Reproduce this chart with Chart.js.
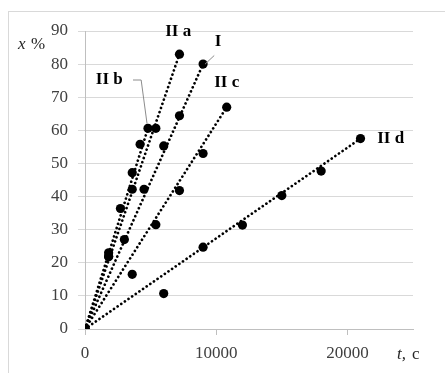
<!DOCTYPE html>
<html>
<head>
<meta charset="UTF-8">
<title>x % vs t</title>
<script src="https://cdn.jsdelivr.net/npm/chart.js"></script>
<style>
  html, body { margin: 0; padding: 0; background: #fff; }
  #wrap { width: 445px; height: 373px; }
</style>
</head>
<body>
<div id="wrap"><canvas id="graf"></canvas></div>
<script>
// measured points, t in s, x in %
var tIIa = [0, 1800, 3600, 5400, 7200];
var xIIa = [0, 22, 42.2, 60.6, 83];
var tIIb = [0, 1800, 2700, 3600, 4200, 4800];
var xIIb = [0, 23, 36.4, 47.2, 55.8, 60.6];
var tI = [0, 1800, 3000, 4500, 6000, 7200, 9000];
var xI = [0, 21.8, 27, 42.2, 55.3, 64.4, 80];
var tIIc = [0, 3600, 5400, 7200, 9000, 10800];
var xIIc = [0, 16.5, 31.5, 41.8, 53, 67];
var tIId = [0, 6000, 9000, 12000, 15000, 18000, 21000];
var xIId = [0, 10.7, 24.7, 31.4, 40.3, 47.7, 57.5];

var yTicks = [0, 10, 20, 30, 40, 50, 60, 70, 80, 90];
var xTicks = [0, 10000, 20000];

// labels of the series: [text, t, x]
var seriesLabels = [
    ['II a', 7100, 89.7],
    ['I', 10150, 86.7],
    ['II c', 10800, 74.3],
    ['II b', 1850, 75.2],
    ['II d', 23300, 57.4]
];

function pts(t, x) {
    return t.map(function (v, i) { return { x: v, y: x[i] }; });
}
// dotted line from origin to the last point
function trend(t, x) {
    return [{ x: t[0], y: x[0] }, { x: t[t.length - 1], y: x[x.length - 1] }];
}

var serif = '"Liberation Serif", "Times New Roman", serif';
var all = [[tIIa, xIIa], [tIIb, xIIb], [tI, xI], [tIIc, xIIc], [tIId, xIId]];
var datasets = [];
all.forEach(function (s) {
    datasets.push({
        type: 'scatter', data: pts(s[0], s[1]),
        pointRadius: 4.6, pointBackgroundColor: '#000', pointBorderColor: '#000', pointBorderWidth: 0
    });
});
all.forEach(function (s) {
    datasets.push({
        type: 'line', data: trend(s[0], s[1]),
        borderColor: '#000', borderWidth: 2.7, borderDash: [0.01, 4.4], borderCapStyle: 'round',
        pointRadius: 0, fill: false
    });
});

var extras = {
    id: 'extras',
    beforeDraw: function (chart) {
        var c = chart.ctx;
        c.save();
        c.fillStyle = '#fff';
        c.fillRect(0, 0, chart.width, chart.height);
        c.strokeStyle = '#d9d9d9';
        c.lineWidth = 1;
        c.strokeRect(8.5, 11.5, 600, 500);
        c.restore();
    },
    afterDraw: function (chart) {
        var c = chart.ctx, sx = chart.scales.x, sy = chart.scales.y;
        function px(t) { return sx.getPixelForValue(t); }
        function py(v) { return sy.getPixelForValue(v); }
        c.save();
        // leader lines
        c.strokeStyle = '#8c8c8c';
        c.lineWidth = 1;
        c.beginPath();
        c.moveTo(px(9850), py(82.6));
        c.lineTo(px(9150), py(80));
        c.moveTo(px(3660), py(75.2));
        c.lineTo(px(4280), py(75.2));
        c.lineTo(px(4730), py(62));
        c.stroke();
        // series labels
        c.fillStyle = '#000';
        c.font = 'bold 17px ' + serif;
        c.textAlign = 'center';
        c.textBaseline = 'middle';
        seriesLabels.forEach(function (l) {
            c.fillText(l[0], px(l[1]), py(l[2]));
        });
        // axis titles
        c.fillStyle = '#262626';
        c.textAlign = 'left';
        c.font = 'italic 17px ' + serif;
        c.fillText('x', 18, 45);
        c.font = '17px ' + serif;
        c.fillText('%', 31, 45);
        c.font = 'italic 17px ' + serif;
        c.fillText('t,', 397, 355);
        c.font = '17px ' + serif;
        c.fillText('c', 412, 355);
        c.restore();
    }
};

new Chart(document.getElementById('graf'), {
    type: 'scatter',
    data: { datasets: datasets },
    options: {
        responsive: true,
        maintainAspectRatio: false,
        animation: false,
        layout: { padding: { left: 0, right: 32, top: 31, bottom: 0 } },
        plugins: { legend: { display: false }, tooltip: { enabled: false } },
        scales: {
            x: {
                type: 'linear', min: 0, max: 25000,
                afterFit: function (s) { s.height = 373 - 329; },
                afterBuildTicks: function (s) { s.ticks = xTicks.map(function (v) { return { value: v }; }); },
                ticks: { font: { family: serif, size: 17 }, color: '#404040', padding: 8, maxRotation: 0,
                         callback: function (v) { return String(v); } },
                grid: { drawOnChartArea: false, drawTicks: true, tickLength: 6, color: '#bfbfbf' },
                border: { color: '#bfbfbf' }
            },
            y: {
                type: 'linear', min: 0, max: 90,
                afterFit: function (s) { s.width = 85; },
                afterBuildTicks: function (s) { s.ticks = yTicks.map(function (v) { return { value: v }; }); },
                ticks: { font: { family: serif, size: 17 }, color: '#404040', padding: 10 },
                grid: { color: '#d9d9d9', tickLength: 7 },
                border: { color: '#bfbfbf' }
            }
        }
    },
    plugins: [extras]
});
</script>
</body>
</html>
